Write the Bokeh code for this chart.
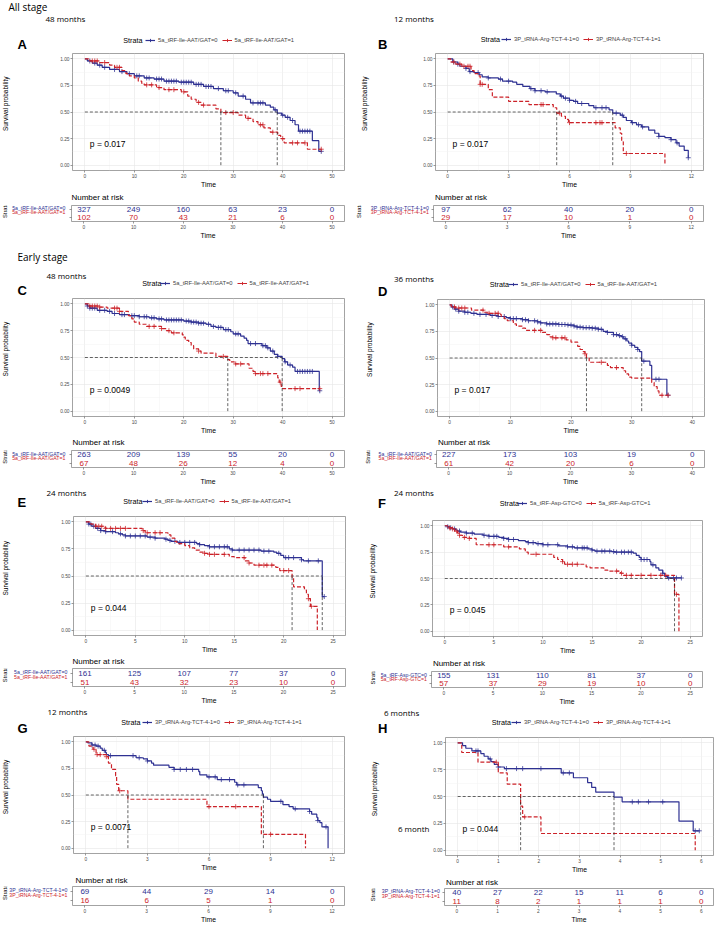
import math
from bokeh.plotting import figure
from bokeh.models import (Range1d, FixedTicker, Legend, LegendItem,
                          NumeralTickFormatter, CustomJSTickFormatter)
from bokeh.layouts import column, row
from bokeh.embed import file_html
from bokeh.resources import INLINE
from bokeh.core.properties import value

# ------------------------------------------------------------------ data
# each curve: list of (time, survival after the drop); censor times separately
LAB_ILE = ["5a_tRF-Ile-AAT/GAT=0", "5a_tRF-Ile-AAT/GAT=1"]
LAB_ARG = ["3P_tRNA-Arg-TCT-4-1=0", "3P_tRNA-Arg-TCT-4-1=1"]
LAB_ASP = ["5a_tRF-Asp-GTC=0", "5a_tRF-Asp-GTC=1"]

# Panel A  (all stage, 48 months)
A_ticks = [0, 10, 20, 30, 40, 50]
A_blue = [(0.5, 0.98), (1.5, 0.96), (2.5, 0.94), (3.5, 0.92), (5, 0.90), (7, 0.88), (8.5, 0.86),
          (10, 0.84), (12, 0.82), (14, 0.81), (16, 0.79), (19, 0.78), (22, 0.76), (24, 0.74),
          (26, 0.72), (28, 0.70), (30, 0.68), (31, 0.65), (32.5, 0.62), (33.5, 0.585), (36.5, 0.565),
          (37.5, 0.545), (38.2, 0.52), (38.9, 0.49), (39.8, 0.47), (40.5, 0.45), (41.5, 0.42),
          (42.5, 0.38), (43.2, 0.32), (46, 0.23), (47.3, 0.13)]
A_blue_cens = [1, 2, 3, 4, 6, 7.5, 9, 10.5, 11, 12.5, 13, 14.5, 15, 15.5, 16.5, 17, 17.5, 18, 18.5,
               19.5, 20, 20.5, 21, 21.5, 22.5, 23, 23.5, 24.5, 25, 25.5, 27, 28.5, 29, 30.5, 32, 34,
               35, 35.5, 36, 38.5, 40, 41, 42, 43.5, 44, 44.5, 45, 45.5, 47.8]
A_red = [(1, 0.98), (3, 0.965), (5, 0.94), (6, 0.92), (7.5, 0.89), (8.3, 0.86), (9, 0.84), (10, 0.82),
         (10.8, 0.79), (11.5, 0.77), (12, 0.755), (14.5, 0.73), (16, 0.71), (19.5, 0.69), (20.8, 0.65),
         (21.5, 0.62), (22.5, 0.59), (23.5, 0.565), (26.5, 0.53), (27.5, 0.495), (31, 0.47),
         (32.5, 0.44), (34, 0.41), (35, 0.38), (36.2, 0.35), (37.5, 0.31), (39, 0.28), (39.6, 0.25),
         (40.3, 0.21), (45, 0.15)]
A_red_cens = [1.5, 2, 2.5, 4, 6.5, 7, 12.5, 13.5, 15, 17, 18, 20, 23, 24, 28.5, 30, 33, 35.5, 36, 38,
              40, 42, 43, 44.5, 47.8]
A_risk_blue = [327, 249, 160, 63, 23, 0]
A_risk_red = [102, 70, 43, 21, 6, 0]

# Panel B  (all stage, 12 months)
B_ticks = [0, 3, 6, 9, 12]
B_blue = [(0.25, 0.97), (0.5, 0.95), (0.6, 0.93), (0.9, 0.91), (1.06, 0.88), (1.3, 0.87), (1.55, 0.85),
          (1.7, 0.83), (2.0, 0.82), (2.5, 0.81), (2.7, 0.79), (3.2, 0.78), (3.4, 0.76), (3.7, 0.74),
          (4.05, 0.72), (4.3, 0.70), (4.8, 0.69), (5.35, 0.67), (5.55, 0.65), (5.7, 0.63), (6.0, 0.61),
          (6.2, 0.60), (6.4, 0.58), (6.95, 0.56), (7.2, 0.54), (7.95, 0.52), (8.13, 0.49), (8.5, 0.47),
          (8.65, 0.45), (8.8, 0.42), (9.05, 0.40), (9.3, 0.38), (9.55, 0.36), (9.9, 0.33), (10.2, 0.30),
          (10.4, 0.27), (10.7, 0.26), (11.0, 0.24), (11.25, 0.21), (11.4, 0.18), (11.65, 0.14),
          (11.85, 0.07)]
B_blue_cens = [0.3, 0.5, 0.9, 1.1, 1.5, 2.0, 2.6, 3.0, 4.1, 4.3, 4.6, 4.9, 5.6, 5.8, 6.0, 6.3, 6.6,
               7.3, 7.6, 7.8, 8.3, 8.6, 9.1, 9.4, 9.6, 10.4, 11.0, 11.3, 11.85]
B_red = [(0.15, 0.97), (0.4, 0.95), (0.7, 0.93), (1.15, 0.89), (1.3, 0.86), (1.5, 0.84), (1.6, 0.76),
         (2.0, 0.71), (2.2, 0.64), (3.0, 0.60), (4.0, 0.57), (5.2, 0.54), (5.37, 0.49), (5.6, 0.46),
         (5.8, 0.43), (5.95, 0.40), (8.25, 0.35), (8.5, 0.30), (8.57, 0.22), (8.65, 0.11), (10.7, 0.0)]
B_red_cens = [0.3, 0.6, 0.8, 1.0, 1.1, 1.6, 1.7, 4.6, 4.7, 5.5, 6.0, 7.3, 7.5, 7.6, 8.8]
B_risk_blue = [97, 62, 40, 20, 0]
B_risk_red = [29, 17, 10, 1, 0]

# Panel C  (early stage, 48 months)
C_ticks = [0, 10, 20, 30, 40, 50]
C_blue = [(0.5, 0.98), (1, 0.96), (2.5, 0.94), (4.5, 0.93), (5.5, 0.91), (7, 0.90), (9, 0.89), (11, 0.88),
          (13, 0.87), (14.5, 0.86), (16, 0.85), (20, 0.84), (21.5, 0.83), (23, 0.82), (24.5, 0.81),
          (25.5, 0.79), (26.5, 0.78), (28, 0.76), (29.5, 0.74), (30, 0.72), (31.5, 0.70), (32.2, 0.68),
          (32.7, 0.66), (33, 0.63), (35.8, 0.61), (36.8, 0.59), (37.5, 0.56), (38.3, 0.53), (39, 0.51),
          (39.9, 0.49), (40.4, 0.46), (41, 0.43), (42, 0.41), (42.5, 0.37), (47.4, 0.19)]
C_blue_cens = [0.5, 1, 1.5, 2, 3, 4, 5, 6, 7.5, 8, 9.5, 10, 11, 12, 12.5, 13.5, 14, 15, 15.5, 16.5, 17,
               17.5, 18, 18.5, 19, 19.5, 20.5, 21, 21.5, 22, 22.5, 23, 23.5, 24, 25, 26, 27, 27.5, 28.5,
               29, 30.5, 31, 33.5, 34.5, 36, 36.5, 37, 38, 39, 40.5, 41.5, 43, 43.5, 44, 44.5, 45, 45.5,
               46, 47.5]
C_red = [(1, 0.98), (3, 0.97), (4.5, 0.96), (7, 0.93), (8.8, 0.89), (9.5, 0.86), (10, 0.83), (11, 0.81),
         (12.5, 0.79), (15.5, 0.77), (16.5, 0.75), (17.5, 0.73), (19.7, 0.71), (20, 0.69), (20.3, 0.66),
         (21, 0.64), (21.5, 0.61), (22, 0.58), (23, 0.56), (23.5, 0.54), (26.5, 0.51), (28.9, 0.48),
         (29.3, 0.46), (30.2, 0.44), (33.2, 0.40), (34, 0.37), (34.3, 0.35), (39, 0.31), (39.3, 0.27),
         (39.7, 0.23), (40, 0.21)]
C_red_cens = [1, 1.5, 2, 2.5, 3, 6, 6.5, 7, 13, 14, 15.5, 17, 18, 23, 28, 30.5, 31.5, 34.5, 35.5, 36,
              37, 39.5, 42.5, 43.5, 47.5]
C_risk_blue = [263, 209, 139, 55, 20, 0]
C_risk_red = [67, 48, 26, 12, 4, 0]

# Panel D  (early stage, 36 months)
D_ticks = [0, 10, 20, 30, 40]
D_blue = [(0.3, 0.98), (0.8, 0.96), (1.5, 0.94), (2.5, 0.93), (3.5, 0.92), (4.5, 0.91), (6.7, 0.90),
          (8, 0.89), (9.3, 0.88), (10, 0.87), (12, 0.86), (13, 0.85), (14.5, 0.84), (15, 0.83),
          (16, 0.82), (18, 0.815), (19.5, 0.81), (20.5, 0.80), (21, 0.79), (22, 0.785), (23.5, 0.78),
          (24.5, 0.77), (25.3, 0.75), (26, 0.74), (27, 0.72), (27.8, 0.71), (28.3, 0.70), (28.7, 0.68),
          (29.2, 0.66), (29.5, 0.64), (30, 0.62), (30.5, 0.60), (31, 0.58), (31.3, 0.56), (31.65, 0.47),
          (33.0, 0.43), (33.3, 0.30), (35.8, 0.15)]
D_blue_cens = [0.5, 1, 1.5, 2.5, 3, 4, 5, 6, 7, 8, 9, 10, 10.5, 11, 12, 12.5, 13, 14, 14.5, 15, 16, 16.5,
               17, 17.5, 18, 18.5, 19, 19.5, 20, 20.5, 21, 21.5, 22, 22.5, 23, 23.5, 24, 24.5, 25, 26,
               27, 27.5, 28, 28.5, 29, 30, 31, 32, 34, 34.5, 36]
D_red = [(0.3, 0.98), (1, 0.97), (3.6, 0.95), (5.6, 0.93), (6.5, 0.92), (8.3, 0.91), (8.5, 0.89),
         (9, 0.87), (9.5, 0.85), (10.5, 0.82), (11, 0.80), (12, 0.78), (12.5, 0.76), (15.3, 0.74),
         (16, 0.72), (16.5, 0.70), (17, 0.69), (19.2, 0.67), (20, 0.65), (21.1, 0.61), (21.5, 0.58),
         (22, 0.56), (22.3, 0.54), (22.55, 0.50), (23, 0.46), (26, 0.43), (26.5, 0.41), (28.6, 0.38),
         (29, 0.35), (29.5, 0.32), (30, 0.31), (33.3, 0.27), (33.7, 0.23), (34.2, 0.19), (34.5, 0.15)]
D_red_cens = [0.8, 1.5, 2, 2.5, 5.5, 6.5, 7.5, 8, 14, 15, 17, 17.5, 18.5, 19, 22.3, 25, 27.5, 35, 36]
D_risk_blue = [227, 173, 103, 19, 0]
D_risk_red = [61, 42, 20, 6, 0]

# Panel E  (early stage, 24 months)
E_ticks = [0, 5, 10, 15, 20, 25]
E_blue = [(0.3, 0.98), (0.6, 0.96), (1.0, 0.94), (1.5, 0.92), (2, 0.91), (3, 0.90), (3.3, 0.89),
          (3.7, 0.88), (4, 0.87), (6.2, 0.86), (7, 0.85), (8, 0.84), (8.3, 0.83), (8.6, 0.82),
          (9.3, 0.81), (11.2, 0.80), (11.5, 0.79), (12, 0.78), (12.5, 0.77), (14.5, 0.75), (14.8, 0.74),
          (17.7, 0.73), (19, 0.72), (19.3, 0.71), (19.7, 0.69), (20, 0.67), (21.8, 0.65), (22, 0.64),
          (23.9, 0.31)]
E_blue_cens = [0.3, 0.5, 0.8, 1.2, 1.5, 2, 2.7, 3.5, 4, 4.5, 5, 5.5, 6, 6.5, 7, 8.1, 8.5, 9, 9.5, 10,
               10.5, 11, 11.5, 12.5, 13, 13.5, 14, 14.3, 14.8, 15.5, 16, 16.5, 17, 17.5, 18, 18.5, 19.5,
               20.2, 20.5, 21, 21.8, 22.5, 23.5, 24.1]
E_red = [(0.5, 0.98), (1, 0.96), (1.8, 0.95), (2, 0.94), (5.7, 0.92), (6, 0.90), (8.3, 0.88), (8.6, 0.85),
         (9, 0.82), (9.2, 0.80), (10, 0.78), (10.5, 0.76), (11, 0.74), (11.5, 0.72), (12, 0.71),
         (12.5, 0.70), (14.5, 0.68), (15, 0.67), (16.1, 0.64), (16.5, 0.62), (17, 0.60), (19.2, 0.58),
         (19.6, 0.55), (20.85, 0.48), (21, 0.40), (22.1, 0.37), (22.3, 0.33), (22.5, 0.29), (22.7, 0.22),
         (23.4, 0.0)]
E_red_cens = [1, 1.3, 1.6, 2, 2.5, 3, 3.5, 4, 5.8, 6.2, 7, 7.5, 12, 12.5, 13, 14, 16, 16.5, 17.5, 18,
              18.3, 18.8, 20, 20.5, 22.5, 22.8]
E_risk_blue = [161, 125, 107, 77, 37, 0]
E_risk_red = [51, 43, 32, 23, 10, 0]

# Panel F  (early stage, 24 months)
F_ticks = [0, 5, 10, 15, 20, 25]
F_blue = [(0.3, 0.99), (0.5, 0.98), (0.8, 0.97), (1.1, 0.96), (1.3, 0.95), (1.6, 0.94), (2.2, 0.93),
          (3, 0.92), (3.9, 0.91), (4.5, 0.90), (5.5, 0.89), (6, 0.88), (6.5, 0.87), (7.5, 0.86),
          (8.2, 0.85), (8.5, 0.84), (9.3, 0.83), (10, 0.82), (11.6, 0.81), (12.5, 0.80), (13.2, 0.79),
          (14.6, 0.78), (15, 0.77), (15.3, 0.76), (17, 0.755), (17.3, 0.75), (19.2, 0.74), (19.5, 0.72),
          (19.8, 0.70), (20, 0.68), (20.9, 0.66), (21.0, 0.63), (21.5, 0.60), (21.8, 0.58), (22.2, 0.55),
          (22.4, 0.52), (22.7, 0.505)]
F_blue_cens = [0.3, 0.6, 1, 1.5, 2.2, 2.8, 4, 4.5, 5, 5.3, 6, 6.5, 7, 8.5, 9, 9.5, 10, 10.5, 11.5, 12.5,
               13, 13.5, 14, 14.2, 14.5, 15, 15.5, 16, 16.3, 16.8, 17.2, 17.5, 18, 18.3, 18.7, 19, 20,
               20.3, 20.6, 21.2, 22.2, 22.8, 23.3, 23.6, 24.1]
F_red = [(0.3, 0.98), (0.8, 0.97), (1, 0.95), (1.3, 0.93), (1.5, 0.91), (1.8, 0.89), (2.5, 0.88),
         (3.2, 0.82), (6, 0.80), (7.6, 0.78), (8.2, 0.75), (8.5, 0.73), (11.1, 0.70), (11.5, 0.68),
         (12, 0.66), (12.2, 0.635), (14.4, 0.61), (14.8, 0.60), (16.2, 0.58), (16.6, 0.57), (17.9, 0.55),
         (18.2, 0.53), (23.4, 0.35), (23.85, 0.0)]
F_red_cens = [0.5, 0.8, 1.2, 1.5, 2, 2.5, 4.5, 5, 6.5, 9.3, 12, 12.5, 13, 13.5, 17.5, 18, 18.5, 19, 20,
              21, 22, 22.5, 23.6]
F_risk_blue = [155, 131, 110, 81, 37, 0]
F_risk_red = [57, 37, 29, 19, 10, 0]

# Panel G  (early stage, 12 months)
G_ticks = [0, 3, 6, 9, 12]
G_blue = [(0.1, 0.99), (0.3, 0.97), (0.5, 0.96), (0.7, 0.94), (0.8, 0.92), (0.95, 0.90), (1.0, 0.88),
          (1.1, 0.87), (2.45, 0.85), (2.8, 0.84), (3.0, 0.82), (3.2, 0.80), (3.3, 0.78), (4.05, 0.76),
          (4.3, 0.74), (5.5, 0.72), (5.55, 0.69), (5.9, 0.67), (6.4, 0.645), (7.25, 0.62), (7.35, 0.595),
          (8.4, 0.57), (8.55, 0.54), (8.6, 0.51), (8.65, 0.48), (8.85, 0.46), (9.0, 0.44), (9.6, 0.41),
          (9.9, 0.39), (10.1, 0.37), (10.9, 0.345), (11.0, 0.32), (11.25, 0.29), (11.3, 0.26),
          (11.4, 0.24), (11.5, 0.20), (11.8, 0.0)]
G_blue_cens = [0.3, 0.45, 0.6, 0.9, 1.2, 2.3, 2.6, 3.0, 4.3, 4.6, 4.9, 5.2, 6.0, 6.3, 6.6, 7.0, 7.4,
               7.7, 9.5, 10.2, 10.9, 11.3, 11.7]
G_red = [(0.15, 0.96), (0.35, 0.93), (0.5, 0.88), (1.0, 0.86), (1.1, 0.80), (1.25, 0.74), (1.45, 0.68),
         (1.5, 0.60), (1.6, 0.54), (2.05, 0.46), (5.9, 0.39), (8.55, 0.13), (10.7, 0.0)]
G_red_cens = [0.4, 0.55, 0.7, 1.0, 1.65, 6.0, 7.3, 9.0]
G_risk_blue = [69, 44, 29, 14, 0]
G_risk_red = [16, 6, 5, 1, 0]

# Panel H  (early stage, 6 months)
H_ticks = [0, 1, 2, 3, 4, 5, 6]
H_blue = [(0.12, 0.975), (0.2, 0.95), (0.35, 0.925), (0.57, 0.90), (0.65, 0.875), (0.75, 0.85),
          (0.82, 0.825), (0.9, 0.80), (1.0, 0.775), (1.15, 0.76), (2.55, 0.72), (2.85, 0.675),
          (3.2, 0.63), (3.3, 0.585), (3.4, 0.54), (3.85, 0.495), (4.05, 0.45), (5.45, 0.27), (5.8, 0.18)]
H_blue_cens = [0.45, 0.5, 0.8, 1.0, 1.2, 1.45, 1.6, 2.05, 2.6, 2.75, 4.3, 4.45, 4.7, 5.05, 5.85, 5.95]
H_red = [(0.1, 0.91), (0.5, 0.82), (1.0, 0.72), (1.22, 0.615), (1.55, 0.41), (1.6, 0.31), (2.05, 0.155),
         (5.85, 0.0)]
H_red_cens = [0.95, 1.65]
H_risk_blue = [40, 27, 22, 15, 11, 6, 0]
H_risk_red = [11, 8, 2, 1, 1, 1, 0]

# ------------------------------------------------------------------ layout / style
BLUE = "#2E3192"
RED = "#CC2229"
FONT = "Liberation Sans"
HFONT = "Open Sans"

SX = 714 / 715
SY = 925 / 926
COLS = [(0, 355), (355, 715)]

# bounds: block top, km-figure top, km-figure bottom, table-figure top, block bottom (reference px)
PANELS = [
    dict(col=0, ticks=A_ticks, curves=(A_blue, A_red), cens=(A_blue_cens, A_red_cens), labs=LAB_ILE,
         p="0.017", risk=(A_risk_blue, A_risk_red), bounds=(0, 52, 190, 202, 241),
         frame=(71, 344, 53, 170), tframe=(71, 344, 205, 223), surv_x=5, strata_x=5, lab_r=65,
         leg=(123, 145, 40), nar=(71, 197),
         heads=[("All stage", 8, 7, "10px", HFONT, "normal"), ("48 months", 45, 18, "8px", HFONT, "normal"),
                ("A", 17, 44, "13px", FONT, "bold")]),
    dict(col=0, ticks=C_ticks, curves=(C_blue, C_red), cens=(C_blue_cens, C_red_cens), labs=LAB_ILE,
         p="0.0049", risk=(C_risk_blue, C_risk_red), bounds=(241, 297, 436, 448, 488),
         frame=(71, 344, 298, 416), tframe=(71, 344, 450, 472), surv_x=5, strata_x=5, lab_r=65,
         leg=(142, 160, 283), nar=(72, 442),
         heads=[("Early stage", 17, 257, "10px", HFONT, "normal"), ("48 months", 46, 275, "8px", HFONT, "normal"),
                ("C", 17, 290, "13px", FONT, "bold")]),
    dict(col=0, ticks=E_ticks, curves=(E_blue, E_red), cens=(E_blue_cens, E_red_cens), labs=LAB_ILE,
         p="0.044", risk=(E_risk_blue, E_risk_red), bounds=(488, 516, 656, 667, 707),
         frame=(72, 345, 517, 636), tframe=(72, 345, 669, 691), surv_x=5, strata_x=5, lab_r=67,
         leg=(123, 142, 502), nar=(72, 661),
         heads=[("24 months", 46, 493, "8px", HFONT, "normal"), ("E", 17, 503, "13px", FONT, "bold")]),
    dict(col=0, ticks=G_ticks, curves=(G_blue, G_red), cens=(G_blue_cens, G_red_cens), labs=LAB_ARG,
         p="0.0071", risk=(G_risk_blue, G_risk_red), bounds=(707, 736, 874, 885, 926),
         frame=(72, 344, 737, 854), tframe=(72, 344, 887, 908), surv_x=5, strata_x=5, lab_r=67,
         leg=(121, 142, 723), nar=(75, 880),
         heads=[("12 months", 47, 712, "8px", HFONT, "normal"), ("G", 17, 729, "13px", FONT, "bold")]),
    dict(col=1, ticks=B_ticks, curves=(B_blue, B_red), cens=(B_blue_cens, B_red_cens), labs=LAB_ARG,
         p="0.017", risk=(B_risk_blue, B_risk_red), bounds=(0, 52, 190, 202, 241),
         frame=(435, 704, 53, 170), tframe=(434, 704, 205, 223), surv_x=365, strata_x=359, lab_r=429,
         leg=(481, 502, 39), nar=(435, 197),
         heads=[("12 months", 394, 18, "8px", HFONT, "normal"), ("B", 378, 44, "13px", FONT, "bold")]),
    dict(col=1, ticks=D_ticks, curves=(D_blue, D_red), cens=(D_blue_cens, D_red_cens), labs=LAB_ILE,
         p="0.017", risk=(D_risk_blue, D_risk_red), bounds=(241, 298, 436, 448, 488),
         frame=(437, 705, 299, 416), tframe=(437, 705, 450, 472), surv_x=370, strata_x=368, lab_r=432,
         leg=(490, 509, 284), nar=(438, 442),
         heads=[("36 months", 394, 278, "8px", HFONT, "normal"), ("D", 378, 291, "13px", FONT, "bold")]),
    dict(col=1, ticks=F_ticks, curves=(F_blue, F_red), cens=(F_blue_cens, F_red_cens), labs=LAB_ASP,
         p="0.045", risk=(F_risk_blue, F_risk_red), bounds=(488, 520, 657, 670, 708),
         frame=(432, 703, 521, 638), tframe=(432, 703, 672, 692), surv_x=373, strata_x=373, lab_r=428,
         leg=(500, 518, 504), nar=(433, 664),
         heads=[("24 months", 394, 493, "8px", HFONT, "normal"), ("F", 378, 504, "13px", FONT, "bold")]),
    dict(col=1, ticks=H_ticks, curves=(H_blue, H_red), cens=(H_blue_cens, H_red_cens), labs=LAB_ARG,
         p="0.044", risk=(H_risk_blue, H_risk_red), bounds=(708, 737, 876, 887, 926),
         frame=(445, 714, 738, 857), tframe=(445, 714, 889, 908), surv_x=375, strata_x=373, lab_r=440,
         leg=(492, 512, 723), nar=(446, 882), stray=("6 month", 844),
         heads=[("6 months", 384, 713, "8px", HFONT, "normal"), ("H", 378, 729, "13px", FONT, "bold")]),
]

KM_AXIS_W = 14   # px between strip and survival frame (tick labels)
TAB_AXIS_W = 3   # px between strip and table frame (ticks)
NAN = float("nan")


def X(v):
    return round(v * SX)


def Y(v):
    return round(v * SY)


def canvas(xl, xr, yt, yb):
    """Plain drawing area in reference-pixel units (px box given in layout px)."""
    p = figure(width=xr - xl, height=yb - yt, x_range=Range1d(xl / SX, xr / SX),
               y_range=Range1d(yb / SY, yt / SY), output_backend="svg", toolbar_location=None,
               tools="", x_axis_location=None, y_axis_location=None, min_border=0,
               min_border_left=0, min_border_right=0, min_border_top=0, min_border_bottom=0)
    p.outline_line_color = None
    p.background_fill_color = "white"
    p.border_fill_color = "white"
    p.grid.visible = False
    return p


def txt(p, x, y, text, size, font=FONT, style="normal", align="left", angle=0.0, color="#000000"):
    p.text(x=[x], y=[y], text=[text], text_font=value(font), text_font_size=size,
           text_font_style=style, text_align=align, text_baseline="middle", angle=angle,
           text_color=color)


def axes_fig(xl, xr, yt, yb, frame, xrange, yrange, left_w):
    l, r, t, b = frame
    p = figure(width=xr - xl, height=yb - yt, x_range=Range1d(*xrange), y_range=Range1d(*yrange),
               output_backend="svg", toolbar_location=None, tools="",
               min_border_left=left_w, min_border_right=max(1, xr - X(r)),
               min_border_top=max(1, Y(t) - yt), min_border_bottom=yb - Y(b))
    p.outline_line_color = "#8C8C8C"
    p.outline_line_width = 0.8
    p.background_fill_color = "white"
    p.border_fill_color = "white"
    for ax in p.axis:
        ax.axis_line_color = None
        ax.major_tick_line_color = "#555555"
        ax.major_tick_line_width = 0.6
        ax.major_tick_out = 2
        ax.major_tick_in = 0
        ax.minor_tick_out = 0
        ax.minor_tick_in = 0
        ax.major_label_text_font = FONT
        ax.major_label_text_font_size = "4.8px"
        ax.major_label_text_color = "#4D4D4D"
        ax.major_label_standoff = 1
        ax.axis_label_text_font = FONT
        ax.axis_label_text_font_style = "normal"
        ax.axis_label_text_font_size = "6.8px"
        ax.axis_label_text_color = "black"
        ax.axis_label_standoff = 0
    return p


def surv_at(steps, t):
    s = 1.0
    for ti, si in steps:
        if ti <= t:
            s = si
    return s


def median_time(steps):
    for ti, si in steps:
        if si <= 0.5:
            return ti
    return None


columns = {0: [], 1: []}

for P in PANELS:
    c0, c1 = COLS[P["col"]]
    xl, xr = X(c0), X(c1)
    b_top, b_km, b_kmb, b_tab, b_bot = [Y(v) for v in P["bounds"]]
    ticks = P["ticks"]
    xmax = ticks[-1]
    xrng = (-0.05 * xmax, 1.05 * xmax)
    minor = [(a + b) / 2 for a, b in zip(ticks[:-1], ticks[1:])]

    # ---------------- header: titles, panel letter, legend
    hdr = canvas(xl, xr, b_top, b_km)
    for text, hx, hy, size, font, style in P["heads"]:
        txt(hdr, hx, hy, text, size, font=font, style=style)
    tx, gx, ly = P["leg"]
    txt(hdr, tx, ly, "Strata", "7.2px")
    items = []
    for color, dash, label in zip((BLUE, RED), ("solid", "4 2"), P["labs"]):
        lr = hdr.line(x=[NAN], y=[NAN], line_color=color, line_width=1.2, line_dash=dash)
        sr = hdr.scatter(x=[NAN], y=[NAN], marker="cross", size=5, line_color=color, line_width=0.9)
        items.append(LegendItem(label=label, renderers=[lr, sr]))
    LEG_H = 8
    vx = X(gx) - xl
    vy = (b_km - ly * SY) - LEG_H / 2
    hdr.add_layout(Legend(items=items, orientation="horizontal", location=(vx, vy), glyph_width=10,
                          glyph_height=8, label_text_font=FONT, label_text_font_size="5.8px",
                          label_standoff=3, spacing=4, padding=0, margin=0, border_line_alpha=0,
                          background_fill_alpha=0, label_height=8, label_width=10))

    # ---------------- survival curves
    sw = X(P["frame"][0]) - KM_AXIS_W
    kstrip = canvas(xl, sw, b_km, b_kmb)
    fy = (P["frame"][2] + P["frame"][3]) / 2
    txt(kstrip, P["surv_x"], fy, "Survival probability", "6.5px", align="center", angle=math.pi / 2)
    if "stray" in P:
        stext, sy = P["stray"]
        txt(kstrip, (sw - 1) / SX, sy, stext, "8px", font=HFONT, align="right")

    p = axes_fig(sw, xr, b_km, b_kmb, P["frame"], xrng, (-0.05, 1.05), KM_AXIS_W)
    p.xaxis.ticker = FixedTicker(ticks=ticks, minor_ticks=minor)
    p.yaxis.ticker = FixedTicker(ticks=[0, 0.25, 0.5, 0.75, 1.0], minor_ticks=[0.125, 0.375, 0.625, 0.875])
    p.yaxis.formatter = NumeralTickFormatter(format="0.00")
    p.xaxis.axis_label = "Time"
    for gr in (p.xgrid, p.ygrid):
        gr.grid_line_color = "#E6E6E6"
        gr.grid_line_width = 0.6
        gr.minor_grid_line_color = "#F3F3F3"
        gr.minor_grid_line_width = 0.5

    meds = []
    for steps, cens, color, dash in zip(P["curves"], P["cens"], (BLUE, RED), ("solid", "4 2")):
        end = max(list(cens) + [steps[-1][0]])
        xs = [0.0] + [t for t, _ in steps] + [end]
        ys = [1.0] + [s for _, s in steps] + [steps[-1][1]]
        p.step(x=xs, y=ys, mode="after", line_color=color, line_width=1.2, line_dash=dash)
        p.scatter(x=cens, y=[surv_at(steps, c) for c in cens], marker="cross", size=5,
                  line_color=color, line_width=0.9, line_alpha=0.85)
        m = median_time(steps)
        if m is not None:
            meds.append(m)
    if meds:
        p.line(x=[0, max(meds)], y=[0.5, 0.5], line_color="#222222", line_width=0.7, line_dash="3 2")
        p.segment(x0=meds, y0=[0] * len(meds), x1=meds, y1=[0.5] * len(meds),
                  line_color="#222222", line_width=0.7, line_dash="3 2")
    p.text(x=[xmax / 50], y=[0.2], text=["p = " + P["p"]], text_font=value(FONT),
           text_font_size="8.5px", text_align="left", text_baseline="middle", text_color="#000000")

    # ---------------- "Number at risk" heading
    nar = canvas(xl, xr, b_kmb, b_tab)
    txt(nar, P["nar"][0], P["nar"][1], "Number at risk", "8px")

    # ---------------- risk table
    tl, tr_, tt, tb = P["tframe"]
    tsw = X(tl) - TAB_AXIS_W
    tstrip = canvas(xl, tsw, b_tab, b_bot)
    t = axes_fig(tsw, xr, b_tab, b_bot, P["tframe"], xrng, (-0.5, 1.5), TAB_AXIS_W)
    t.xgrid.visible = False
    t.ygrid.visible = False
    t.xaxis.ticker = FixedTicker(ticks=ticks)
    t.xaxis.axis_label = "Time"
    t.yaxis.ticker = FixedTicker(ticks=[0, 1])
    t.yaxis.formatter = CustomJSTickFormatter(code="return ''")
    lab_r = min(P["lab_r"], (tsw - 1.5) / SX)
    for row_y, frac, vals, color, label in zip((1, 0), (0.25, 0.75), P["risk"], (BLUE, RED), P["labs"]):
        t.text(x=ticks, y=[row_y] * len(ticks), text=[str(v) for v in vals], text_font=value(FONT),
               text_font_size="8px", text_align="center", text_baseline="middle", text_color=color)
        txt(tstrip, lab_r, tt + frac * (tb - tt), label, "5.2px", align="right", color=color)
    txt(tstrip, P["strata_x"], (tt + tb) / 2, "Strata", "5.8px", align="center", angle=math.pi / 2)

    columns[P["col"]].extend([hdr, row(kstrip, p), nar, row(tstrip, t)])

layout = row(column(*columns[0]), column(*columns[1]))

open("out.html", "w").write(file_html(layout, INLINE))
